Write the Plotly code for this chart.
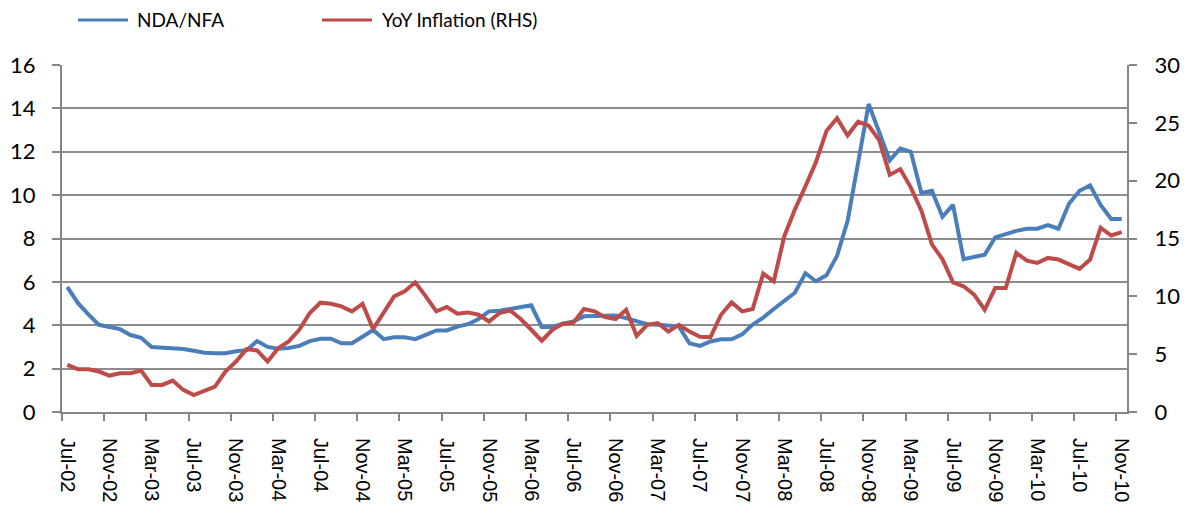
import plotly.graph_objects as go

# Monthly categories Jul-02 .. Nov-10
month_names = ["Jan", "Feb", "Mar", "Apr", "May", "Jun",
               "Jul", "Aug", "Sep", "Oct", "Nov", "Dec"]
months = []
for yr in range(2002, 2011):
    for m in range(12):
        if (yr == 2002 and m < 6) or (yr == 2010 and m > 10):
            continue
        months.append(f"{month_names[m]}-{str(yr)[2:]}")

nda_nfa = [
    5.77, 5.03, 4.50, 4.02, 3.92, 3.82, 3.55, 3.42, 3.00, 2.97,
    2.90, 2.90, 2.82, 2.73, 2.71, 2.71, 2.80, 2.85, 3.27, 3.00,
    2.92, 2.95, 3.05, 3.27, 3.38, 3.38, 3.17, 3.17, 3.47, 3.78,
    3.36, 3.45, 3.45, 3.36, 3.56, 3.76, 3.76, 3.94, 4.05, 4.29,
    4.64, 4.67, 4.75, 4.84, 4.92, 3.92, 3.92, 4.07, 4.18, 4.41,
    4.41, 4.42, 4.45, 4.33, 4.18, 4.05, 4.02, 4.00, 3.95, 3.17,
    3.05, 3.25, 3.35, 3.35, 3.58, 4.03, 4.35, 4.75, 5.15, 5.50,
    6.40, 6.03, 6.30, 7.20, 8.80, 11.50, 14.20, 12.90, 11.60, 12.15,
    12.00, 10.10, 10.20, 9.00, 9.55, 7.05, 7.15, 7.25, 8.05, 8.20,
    8.35, 8.45, 8.45, 8.62, 8.45, 9.60, 10.20, 10.45, 9.55, 8.90,
    8.90,
]

yoy_inflation = [
    4.07, 3.70, 3.70, 3.50, 3.15, 3.35, 3.35, 3.58, 2.34, 2.34,
    2.72, 1.91, 1.47, 1.82, 2.20, 3.50, 4.36, 5.43, 5.32, 4.36,
    5.52, 6.10, 7.11, 8.56, 9.45, 9.36, 9.13, 8.70, 9.36, 7.17,
    8.56, 10.00, 10.43, 11.21, 10.00, 8.70, 9.08, 8.50, 8.61, 8.41,
    7.83, 8.56, 8.79, 8.04, 7.11, 6.16, 7.11, 7.63, 7.72, 8.90,
    8.70, 8.20, 8.04, 8.84, 6.59, 7.54, 7.69, 6.96, 7.54, 6.96,
    6.50, 6.47, 8.41, 9.48, 8.70, 8.90, 11.97, 11.30, 15.20, 17.50,
    19.50, 21.60, 24.30, 25.40, 23.90, 25.10, 24.75, 23.50, 20.50, 21.00,
    19.40, 17.40, 14.50, 13.20, 11.20, 10.87, 10.15, 8.84, 10.72, 10.72,
    13.76, 13.09, 12.89, 13.32, 13.18, 12.80, 12.37, 13.18, 15.93, 15.26,
    15.55,
]

tick_labels = ["Jul-02", "Nov-02", "Mar-03", "Jul-03", "Nov-03", "Mar-04",
               "Jul-04", "Nov-04", "Mar-05", "Jul-05", "Nov-05", "Mar-06",
               "Jul-06", "Nov-06", "Mar-07", "Jul-07", "Nov-07", "Mar-08",
               "Jul-08", "Nov-08", "Mar-09", "Jul-09", "Nov-09", "Mar-10",
               "Jul-10", "Nov-10"]

series_names = ["NDA/NFA", "YoY Inflation (RHS)"]

x_idx = list(range(len(months)))
label_pos = [months.index(t) for t in tick_labels]
boundary_pos = [p - 0.5 for p in label_pos]

BLUE = "#4A7EBB"
RED = "#BE4B48"
AXIS = "#868686"

W, H = 1189, 518
ML, MR, MT, MB = 62, 62, 65, 106
PW, PH = W - ML - MR, H - MT - MB


def px_x(px):
    return (px - ML) / PW


def px_y(py):
    return (H - MB - py) / PH


fig = go.Figure()
fig.add_trace(go.Scatter(x=x_idx, y=nda_nfa, name=series_names[0], mode="lines",
                         line=dict(color=BLUE, width=4), text=months,
                         hovertemplate="%{text}: %{y}<extra></extra>"))
fig.add_trace(go.Scatter(x=x_idx, y=yoy_inflation, name=series_names[1],
                         mode="lines", yaxis="y2",
                         line=dict(color=RED, width=4), text=months,
                         hovertemplate="%{text}: %{y}<extra></extra>"))

# Legend drawn above the plot (Excel-style long line samples)
legend_items = [(series_names[0], BLUE, 78, 128, 135),
                (series_names[1], RED, 322, 372, 380)]
shapes, annotations = [], []
for name, color, lx0, lx1, tx in legend_items:
    shapes.append(dict(type="line", xref="paper", yref="paper",
                       x0=px_x(lx0), x1=px_x(lx1), y0=px_y(20), y1=px_y(20),
                       line=dict(color=color, width=3)))
    annotations.append(dict(text=name, xref="paper", yref="paper",
                            x=px_x(tx), y=px_y(20), xanchor="left",
                            yanchor="middle", showarrow=False,
                            font=dict(family="Lato", size=19, color="black")))

fig.update_layout(
    width=W, height=H,
    margin=dict(l=ML, r=MR, t=MT, b=MB, autoexpand=False),
    plot_bgcolor="white", paper_bgcolor="white",
    showlegend=False,
    shapes=shapes, annotations=annotations,
    xaxis=dict(
        range=[-0.5, len(months) - 0.5],
        tickmode="array", tickvals=label_pos, ticktext=tick_labels,
        ticks="", tickangle=90, ticklabelstandoff=20,
        tickfont=dict(family="Liberation Sans", size=20, color="black"),
        showline=True, linecolor=AXIS, linewidth=2,
        showgrid=False, zeroline=False, automargin=False,
        minor=dict(tickmode="array", tickvals=boundary_pos, ticks="outside",
                   ticklen=7, tickcolor=AXIS, tickwidth=1.5, showgrid=False),
    ),
    yaxis=dict(
        range=[0, 16], tickmode="linear", tick0=0, dtick=2,
        ticks="outside", ticklen=8, tickcolor=AXIS, tickwidth=1.5,
        ticklabelstandoff=12,
        showline=True, linecolor=AXIS, linewidth=2,
        showgrid=True, gridcolor="#8c8c8c", gridwidth=1.5,
        zeroline=False, automargin=False,
        tickfont=dict(family="Lato", size=22, color="black"),
    ),
    yaxis2=dict(
        range=[0, 30], tickmode="linear", tick0=0, dtick=5,
        overlaying="y", side="right",
        ticks="outside", ticklen=8, tickcolor=AXIS, tickwidth=1.5,
        ticklabelstandoff=13,
        showline=True, linecolor=AXIS, linewidth=2,
        showgrid=False, zeroline=False, automargin=False,
        tickfont=dict(family="Lato", size=22, color="black"),
    ),
)

fig.write_html("out.html",
               config={"displayModeBar": False},
               post_script="document.body.style.margin='0';"
                           "document.body.style.overflow='hidden';")
